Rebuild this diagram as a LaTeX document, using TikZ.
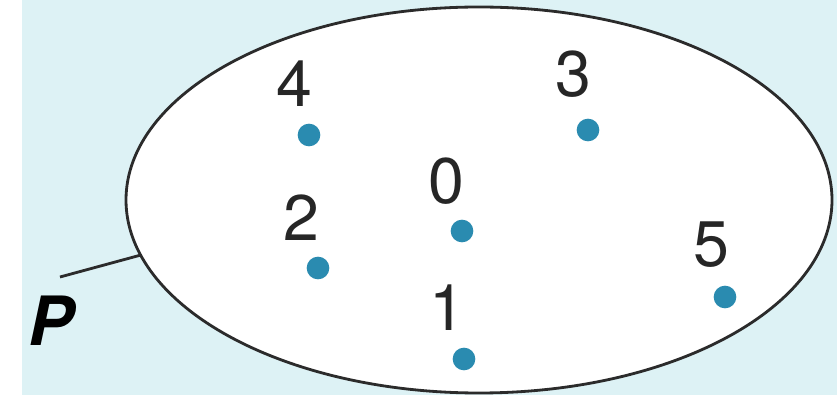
\documentclass[tikz,border=0pt]{standalone}
\usepackage{fontspec}
\setsansfont{TeX Gyre Heros}
\usepackage{xcolor}
\usetikzlibrary{positioning}
\definecolor{paleblue}{HTML}{DDF2F5}
\definecolor{dotblue}{HTML}{2A8BB0}
\definecolor{rimgray}{HTML}{2B2B2B}

\begin{document}
\begin{tikzpicture}[x=0.03cm, y=-0.03cm,
  pt/.style={circle, fill=dotblue, inner sep=0pt, minimum size=0.68cm},
  num/.style={font=\sffamily\fontsize{55}{55}\selectfont, inner sep=0pt, text=black!85},
]
  \useasboundingbox (0,0) rectangle (837,405);
  \fill[white] (0,0) rectangle (837,405);
  \fill[paleblue] (22,0) rectangle (837,395);

  % the set
  \draw[rimgray, line width=2.4pt, fill=white] (479,200) ellipse [x radius=353, y radius=193];
  \coordinate (rim) at (141,255);

  % elements
  \node[pt] (d4) at (309,135) {};
  \node[pt] (d3) at (588,130) {};
  \node[pt] (d0) at (462,231) {};
  \node[pt] (d2) at (318,268) {};
  \node[pt] (d5) at (725,297) {};
  \node[pt] (d1) at (464,359) {};

  \node[num] (n4) at (294,84) {4};
  \node[num] (n3) at (573,74) {3};
  \node[num] (n0) at (446,181) {0};
  \node[num] (n2) at (301,218) {2};
  \node[num] (n5) at (711,245) {5};
  \node[num] (n1) at (447,308) {1};

  % name of the set
  \node[font=\sffamily\bfseries\itshape\fontsize{58}{58}\selectfont, inner sep=0pt] (p) at (51,321) {P};
  \coordinate (tail) at (60,277);
  \draw[rimgray, line width=2.4pt] (tail) -- (rim);
\end{tikzpicture}
\end{document}
